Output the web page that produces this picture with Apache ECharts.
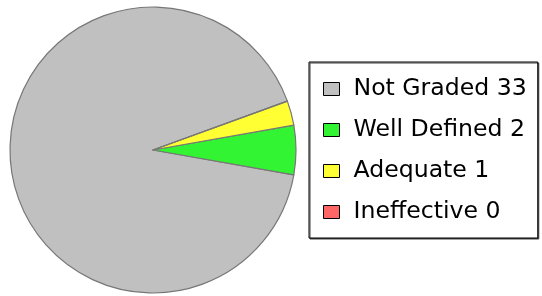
<!DOCTYPE html>
<html>
<head>
<meta charset="utf-8">
<script src="https://cdn.jsdelivr.net/npm/echarts@6/dist/echarts.min.js"></script>
<style>
  html,body{margin:0;padding:0;background:#fff;}
  #chart{width:542px;height:296px;}
</style>
</head>
<body>
<div id="chart"></div>
<script>
// data
var names = ["Not Graded", "Well Defined", "Adequate", "Ineffective"];
var values = [33, 2, 1, 0];
var colors = ["#c0c0c0", "#33f433", "#ffff33", "#ff6666"];

var myChart = echarts.init(document.getElementById("chart"));

var pieData = names.map(function (n, i) {
  return { name: n, value: values[i], itemStyle: { color: colors[i] } };
});

myChart.setOption({
  animation: false,
  legend: {
    orient: "vertical",
    left: 309,
    top: 62,
    padding: [13, 11, 12, 14],
    itemWidth: 16,
    itemHeight: 13,
    itemGap: 13,
    icon: "rect",
    backgroundColor: "#fff",
    borderColor: "#000",
    borderWidth: 1,
    shadowColor: "#444",
    shadowOffsetX: 1,
    shadowOffsetY: 1,
    shadowBlur: 0,
    itemStyle: { borderColor: "#000", borderWidth: 1 },
    textStyle: {
      fontFamily: "DejaVu Sans",
      fontSize: 23.6,
      lineHeight: 28,
      color: "#000",
      padding: [0, 0, 0, 9]
    },
    formatter: function (name) {
      return name + " " + values[names.indexOf(name)];
    },
    data: names
  },
  series: [
    {
      type: "pie",
      center: [153, 150],
      radius: 143,
      startAngle: 20,
      clockwise: false,
      label: { show: false },
      labelLine: { show: false },
      emphasis: { disabled: true },
      itemStyle: { borderColor: "#777", borderWidth: 1.2 },
      data: pieData
    }
  ]
});
</script>
</body>
</html>
